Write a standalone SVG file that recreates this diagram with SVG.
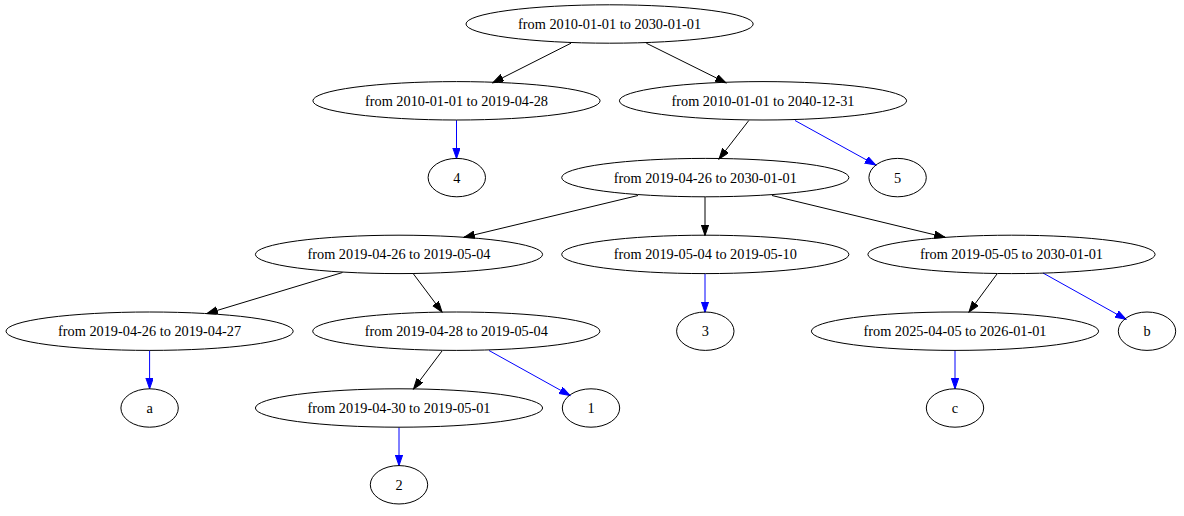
<svg xmlns="http://www.w3.org/2000/svg" width="1184" height="516" viewBox="0 0 1184 516">
<style>
.n ellipse{fill:none;stroke:#000;stroke-width:1}
.n text{font-family:"Liberation Serif","Times New Roman",serif;font-size:14.3px;fill:#000;text-anchor:middle}
.e line{stroke-width:1;fill:none}
.k{stroke:#000}
.b{stroke:#0000ff}
</style>
<defs>
<marker id="ak" markerUnits="userSpaceOnUse" markerWidth="12" markerHeight="8" refX="10.7" refY="3.7" orient="auto"><path d="M0,0L10.7,3.7L0,7.4z" fill="#000" stroke="#000" stroke-width="1"/></marker>
<marker id="ab" markerUnits="userSpaceOnUse" markerWidth="12" markerHeight="8" refX="10.7" refY="3.7" orient="auto"><path d="M0,0L10.7,3.7L0,7.4z" fill="#0000ff" stroke="#0000ff" stroke-width="1"/></marker>
</defs>
<rect width="1184" height="516" fill="#fff"/>
<g id="edges" class="e">
<line class="k" x1="571" y1="43.2" x2="492.8" y2="82.7" marker-end="url(#ak)"/>
<line class="k" x1="646.3" y1="43.2" x2="725.9" y2="82.7" marker-end="url(#ak)"/>
<line class="b" x1="456.5" y1="120.2" x2="456.5" y2="158.6" marker-end="url(#ab)"/>
<line class="k" x1="748.8" y1="120.5" x2="719" y2="159" marker-end="url(#ak)"/>
<line class="b" x1="795" y1="120.5" x2="875.7" y2="165" marker-end="url(#ab)"/>
<line class="k" x1="638" y1="195.5" x2="464" y2="237.3" marker-end="url(#ak)"/>
<line class="k" x1="705" y1="197" x2="705" y2="235.5" marker-end="url(#ak)"/>
<line class="k" x1="772" y1="195.5" x2="945" y2="237.3" marker-end="url(#ak)"/>
<line class="k" x1="342.5" y1="272.5" x2="207" y2="313.5" marker-end="url(#ak)"/>
<line class="k" x1="413.5" y1="274" x2="442" y2="312" marker-end="url(#ak)"/>
<line class="b" x1="705" y1="273.8" x2="705" y2="312.3" marker-end="url(#ab)"/>
<line class="k" x1="997" y1="274" x2="969" y2="312" marker-end="url(#ak)"/>
<line class="b" x1="1043" y1="273" x2="1126" y2="319.3" marker-end="url(#ab)"/>
<line class="b" x1="149.6" y1="350.5" x2="149.6" y2="388.8" marker-end="url(#ab)"/>
<line class="k" x1="442" y1="351" x2="413.5" y2="389" marker-end="url(#ak)"/>
<line class="b" x1="489" y1="350.5" x2="570" y2="395.5" marker-end="url(#ab)"/>
<line class="b" x1="955" y1="350.5" x2="955" y2="388.8" marker-end="url(#ab)"/>
<line class="b" x1="399" y1="427.5" x2="399" y2="465.6" marker-end="url(#ab)"/>
</g>
<g id="root" class="n"><ellipse cx="609.6" cy="24" rx="143.6" ry="19.2"/><text x="609.6" y="29">from 2010-01-01 to 2030-01-01</text></g>
<g id="r2010_20190428" class="n"><ellipse cx="456.5" cy="100.8" rx="143.6" ry="19.2"/><text x="456.5" y="105.8">from 2010-01-01 to 2019-04-28</text></g>
<g id="r2010_20401231" class="n"><ellipse cx="763" cy="100.8" rx="143.6" ry="19.2"/><text x="763" y="105.8">from 2010-01-01 to 2040-12-31</text></g>
<g id="leaf4" class="n"><ellipse cx="456.8" cy="177.6" rx="28.7" ry="19.2"/><text x="456.8" y="182.6">4</text></g>
<g id="r20190426_20300101" class="n"><ellipse cx="705.3" cy="177.6" rx="143.6" ry="19.2"/><text x="705.3" y="182.6">from 2019-04-26 to 2030-01-01</text></g>
<g id="leaf5" class="n"><ellipse cx="897.6" cy="177.6" rx="28.7" ry="19.2"/><text x="897.6" y="182.6">5</text></g>
<g id="r20190426_20190504" class="n"><ellipse cx="399" cy="254.4" rx="143.6" ry="19.2"/><text x="399" y="259.4">from 2019-04-26 to 2019-05-04</text></g>
<g id="r20190504_20190510" class="n"><ellipse cx="705.3" cy="254.4" rx="143.6" ry="19.2"/><text x="705.3" y="259.4">from 2019-05-04 to 2019-05-10</text></g>
<g id="r20190505_20300101" class="n"><ellipse cx="1011.5" cy="254.4" rx="143.6" ry="19.2"/><text x="1011.5" y="259.4">from 2019-05-05 to 2030-01-01</text></g>
<g id="r20190426_20190427" class="n"><ellipse cx="149.6" cy="331.2" rx="143.6" ry="19.2"/><text x="149.6" y="336.2">from 2019-04-26 to 2019-04-27</text></g>
<g id="r20190428_20190504" class="n"><ellipse cx="456.3" cy="331.2" rx="143.6" ry="19.2"/><text x="456.3" y="336.2">from 2019-04-28 to 2019-05-04</text></g>
<g id="leaf3" class="n"><ellipse cx="705.3" cy="331.2" rx="28.7" ry="19.2"/><text x="705.3" y="336.2">3</text></g>
<g id="r20250405_20260101" class="n"><ellipse cx="955" cy="331.2" rx="143.6" ry="19.2"/><text x="955" y="336.2">from 2025-04-05 to 2026-01-01</text></g>
<g id="leafb" class="n"><ellipse cx="1147" cy="331.2" rx="28.7" ry="19.2"/><text x="1147" y="336.2">b</text></g>
<g id="leafa" class="n"><ellipse cx="149.6" cy="408" rx="28.7" ry="19.2"/><text x="149.6" y="413">a</text></g>
<g id="r20190430_20190501" class="n"><ellipse cx="399" cy="408" rx="143.6" ry="19.2"/><text x="399" y="413">from 2019-04-30 to 2019-05-01</text></g>
<g id="leaf1" class="n"><ellipse cx="591" cy="408" rx="28.7" ry="19.2"/><text x="591" y="413">1</text></g>
<g id="leafc" class="n"><ellipse cx="955" cy="408" rx="28.7" ry="19.2"/><text x="955" y="413">c</text></g>
<g id="leaf2" class="n"><ellipse cx="399" cy="484.8" rx="28.7" ry="19.2"/><text x="399" y="489.8">2</text></g>
</svg>
